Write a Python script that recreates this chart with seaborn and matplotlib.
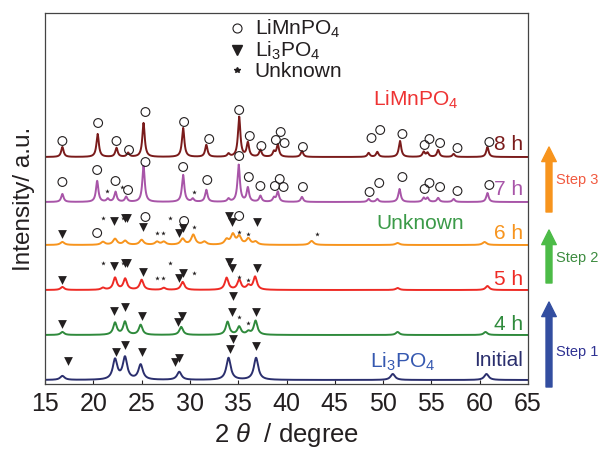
import numpy as np
import pandas as pd
import seaborn as sns
import matplotlib.pyplot as plt
from matplotlib.lines import Line2D

# XRD patterns (2theta in degree, intensity in a.u.)
PATTERNS = ['Initial', '4 h', '5 h', '6 h', '7 h', '8 h']
OFFSETS = [4, 49, 94, 139, 182, 227]
WIDTHS = [0.55, 0.45, 0.45, 0.5, 0.3, 0.3]

p0_pos = [16.8, 22.25, 23.28, 24.9, 28.9, 34.0, 36.85, 51.0, 60.7]
p0_h = [4, 20, 22, 15, 8, 22, 22, 6, 6]
p4_pos = [16.8, 22.25, 23.28, 24.9, 29.1, 33.9, 35.1, 36.05, 36.8, 51.5, 60.6]
p4_h = [3, 12, 13, 10, 8, 13, 8, 3, 14, 3, 3]
p5_pos = [16.8, 21.0, 22.25, 23.3, 25.0, 27.3, 29.25, 33.8, 35.1, 36.05, 36.75, 51.5, 60.8]
p5_h = [3, 2, 12, 11, 10, 2, 8, 12, 10, 4, 13, 2, 4]
p6_pos = [16.8, 21.0, 22.25, 23.3, 25.0, 26.6, 27.3, 29.25, 30.35, 31.5, 33.8, 34.45, 35.1,
          36.05, 36.8, 42.6, 51.5, 60.5]
p6_h = [3, 3, 6, 4, 5, 3, 3, 6, 10, 3, 5, 10, 8, 6, 3, 4, 2, 3]
p7_pos = [16.8, 20.4, 21.5, 22.3, 23.4, 25.2, 29.3, 30.3, 31.7, 34.0, 35.05, 36.0, 37.3, 38.7,
          39.1, 41.6, 48.5, 49.4, 51.7, 54.2, 54.6, 55.7, 57.3, 60.8]
p7_h = [8, 21, 3, 10, 5, 36, 27, 3, 12, 3, 37, 14, 6, 4, 10, 5, 3, 3, 13, 4, 4, 4, 3, 9]
p8_pos = [16.8, 20.45, 22.4, 23.6, 25.2, 29.3, 31.7, 34.0, 35.1, 36.0, 37.3, 38.7, 39.1, 41.6,
          48.5, 49.4, 51.75, 54.2, 54.6, 55.7, 57.3, 60.8]
p8_h = [10, 23, 9, 4, 34, 29, 12, 3, 40, 14, 7, 5, 12, 6, 4, 5, 16, 5, 4, 7, 3, 10]

PEAK_POS = [p0_pos, p4_pos, p5_pos, p6_pos, p7_pos, p8_pos]
PEAK_H = [p0_h, p4_h, p5_h, p6_h, p7_h, p8_h]

COLORS = {'Initial': '#2b2f6e', '4 h': '#2f8a3c', '5 h': '#ee2a24',
          '6 h': '#f7941d', '7 h': '#a855a8', '8 h': '#7a1b1b'}

# phase markers (position, height)
lmp8_x = [16.8, 20.5, 22.4, 23.7, 25.4, 29.4, 32.0, 35.1, 36.2, 37.4, 38.9, 39.4, 39.8, 41.7,
          48.8, 49.7, 52.0, 54.3, 54.8, 55.9, 57.7, 61.0]
lmp8_y = [243, 261, 243, 234, 272, 262, 245, 274, 248, 238, 244, 252, 241, 237,
          246, 254, 250, 239, 245, 241, 236, 242]
lmp7_x = [16.8, 20.4, 22.3, 23.6, 25.4, 29.3, 31.8, 35.1, 36.1, 37.3, 38.8, 39.3, 39.7, 41.7,
          48.6, 49.6, 52.0, 54.3, 54.8, 55.9, 57.7, 61.0]
lmp7_y = [202, 214, 203, 194, 222, 217, 204, 228, 207, 198, 198, 205, 197, 197,
          192, 201, 207, 195, 201, 197, 193, 199]
lmp6_x = [20.4, 25.4, 29.4, 35.1]
lmp6_y = [151, 167, 163, 168]

unk7_x = [21.45, 23.0, 30.4]
unk7_y = [193, 197, 192]
unk6_x = [21.0, 23.1, 26.6, 27.25, 27.9, 30.4, 35.1, 36.05, 43.2]
unk6_y = [166, 166, 151, 151, 166, 157, 152, 150, 150]
unk5_x = [21.0, 23.1, 26.6, 27.25, 27.9, 30.4, 35.05, 36.05]
unk5_y = [121, 121, 106, 106, 121, 111, 107, 104]
unk4_x = [35.1, 36.05]
unk4_y = [67, 61]

lpo6_x = [16.8, 22.1, 23.3, 23.5, 25.1, 28.9, 29.3, 34.0, 34.4, 36.95]
lpo6_y = [150, 163, 166, 166, 157, 151, 156, 168, 162, 162]
lpo5_x = [16.8, 22.1, 23.3, 23.5, 25.1, 28.9, 29.3, 34.0, 34.4, 36.95]
lpo5_y = [104, 118, 121, 121, 112, 106, 111, 122, 116, 116]
lpo4_x = [16.8, 22.1, 23.3, 25.0, 28.75, 29.15, 34.35, 34.45, 36.8]
lpo4_y = [60, 73, 77, 68, 62, 68, 72, 88, 72]
lpo0_x = [17.4, 22.35, 23.3, 25.0, 28.45, 28.9, 34.1, 34.45, 36.85]
lpo0_y = [23, 32, 39, 32, 22, 26, 35, 45, 38]


sns.set_style('white')
plt.rcParams['font.family'] = ['Liberation Sans', 'DejaVu Sans']
plt.rcParams['mathtext.fontset'] = 'custom'
plt.rcParams['mathtext.rm'] = 'Liberation Sans'
plt.rcParams['mathtext.it'] = 'Liberation Sans:italic'
plt.rcParams['mathtext.default'] = 'regular'

TXT = '#231f20'

two_theta = np.linspace(15, 65, 2001)
frames = []
for name, off, w, pos, hts in zip(PATTERNS, OFFSETS, WIDTHS, PEAK_POS, PEAK_H):
    y = np.full_like(two_theta, off, dtype=float)
    for x0, h in zip(pos, hts):
        y += h / (1 + ((two_theta - x0) / (w / 2)) ** 2)
    frames.append(pd.DataFrame({'two_theta': two_theta, 'intensity': y, 'pattern': name}))
xrd = pd.concat(frames, ignore_index=True)

fig = plt.figure(figsize=(6, 4.49), dpi=100)
ax = fig.add_axes([0.075, 0.1448, 0.805, 0.8262])

sns.lineplot(data=xrd, x='two_theta', y='intensity', hue='pattern', palette=COLORS,
             estimator=None, linewidth=1.4, legend=False, ax=ax)

circ_x = lmp8_x + lmp7_x + lmp6_x
circ_y = lmp8_y + lmp7_y + lmp6_y
star_x = unk7_x + unk6_x + unk5_x + unk4_x
star_y = unk7_y + unk6_y + unk5_y + unk4_y
tri_x = lpo6_x + lpo5_x + lpo4_x + lpo0_x
tri_y = lpo6_y + lpo5_y + lpo4_y + lpo0_y

ax.scatter(circ_x, circ_y, s=40, marker='o', facecolors='none', edgecolors=TXT, linewidths=0.8, zorder=3)
ax.scatter(tri_x, tri_y, s=40, marker='v', color=TXT, linewidths=0, zorder=3)
ax.scatter(star_x, star_y, s=12, marker='*', color=TXT, linewidths=0, zorder=3)

handles = [Line2D([], [], ls='', marker='o', ms=6.5, mfc='none', mec=TXT, mew=0.8),
           Line2D([], [], ls='', marker='v', ms=7, color=TXT),
           Line2D([], [], ls='', marker='*', ms=4, color=TXT)]
ax.legend(handles, ['LiMnPO$_4$', 'Li$_3$PO$_4$', 'Unknown'], loc='upper left',
          bbox_to_anchor=(0.38, 0.987), frameon=False, fontsize=15, handlelength=0.8,
          handletextpad=0.45, labelspacing=0.0, borderpad=0, borderaxespad=0,
          labelcolor=TXT)

# labels of the curves
for name, ypos in zip(PATTERNS, [23, 59, 104, 150.5, 194.5, 239.5]):
    ax.text(64.5, ypos, name, color=COLORS[name], fontsize=15, ha='right', va='center')
ax.text(53.4, 284, 'LiMnPO$_4$', color='#ee3333', fontsize=15, ha='center', va='center')
ax.text(53.8, 161, 'Unknown', color='#3b9a48', fontsize=15, ha='center', va='center')
ax.text(52.0, 22, 'Li$_3$PO$_4$', color='#3558b0', fontsize=15, ha='center', va='center')

ax.set_xlim(15, 65)
ax.set_ylim(0, 371)
ax.set_xticks(np.arange(15, 66, 5))
ax.set_yticks([])
ax.tick_params(axis='x', direction='in', length=3, width=0.8, pad=6, labelsize=18,
               colors=TXT, bottom=True)
for sp in ax.spines.values():
    sp.set_color('#444444')
    sp.set_linewidth(0.9)
ax.set_xlabel(r'2 $\mathit{\theta}$  / degree', fontsize=18.5, color=TXT, labelpad=3.5)
ax.set_ylabel('Intensity/ a.u.', fontsize=17.5, color=TXT, labelpad=7)

# steps on the right, in figure pixels
steps = [('Step 1', '#334ea0', '#2e3192', 62, 147, 97),
         ('Step 2', '#4cbb47', '#3d8c40', 166, 219, 191),
         ('Step 3', '#f7941d', '#f15a40', 237, 302, 269)]
for label, acol, tcol, y0, y1, ytxt in steps:
    ax.annotate('', xy=(549, y1), xytext=(549, y0), xycoords='figure pixels',
                arrowprops=dict(width=4.3, headwidth=10.5, headlength=10.5, color=acol, shrink=0),
                annotation_clip=False)
    fig.text(556 / 600, ytxt / 449, label, color=tcol, fontsize=10.5, ha='left', va='center')

fig.savefig('out.png', dpi=100)
